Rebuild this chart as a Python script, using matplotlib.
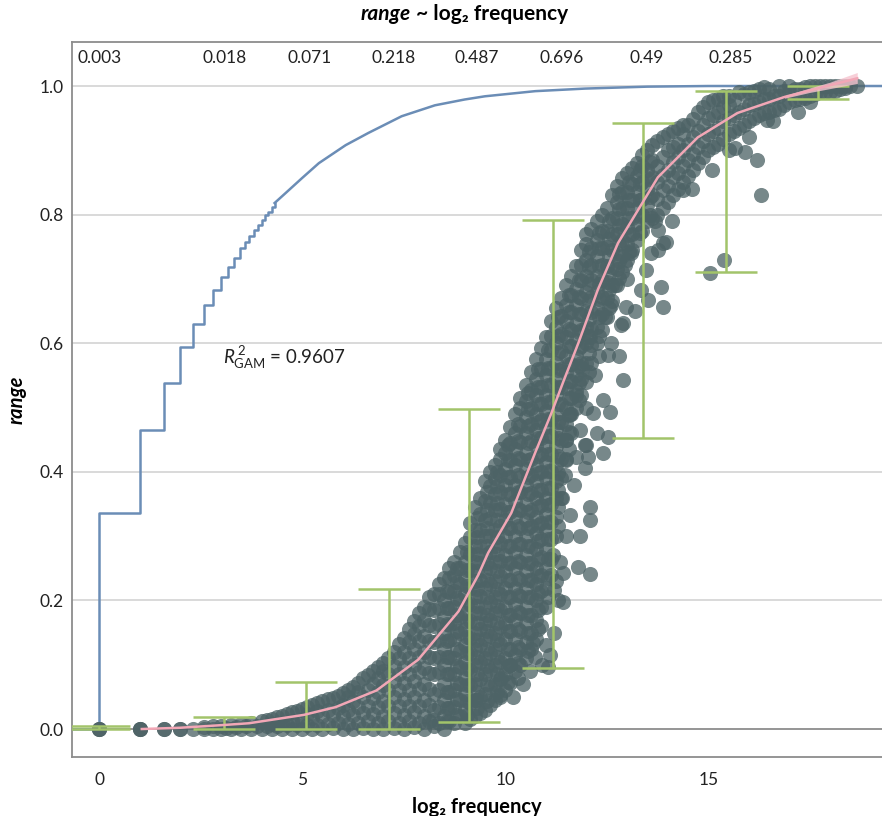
import matplotlib
matplotlib.use('Agg')
import matplotlib.pyplot as plt

plt.rcParams['font.family'] = ['Lato', 'DejaVu Sans']
plt.rcParams['mathtext.fontset'] = 'custom'
plt.rcParams['mathtext.rm'] = 'Lato'
plt.rcParams['mathtext.it'] = 'Lato:italic'
plt.rcParams['mathtext.bf'] = 'Lato:bold'

# ---------------- data ----------------
# words with range 0 at the lowest frequencies (many overlapping)
low_x = [0.0, 0.0, 0.0, 1.0, 1.0, 1.0, 1.585, 1.585, 2.0, 2.0]
low_y = [0.0, 0.0, 0.0, 0.0, 0.0, 0.0, 0.0, 0.0, 0.0, 0.0]

# main cloud, by column of log2 frequency (first set)
cloud_x = [2.32, 2.58, 2.81, 3.0, 3.25, 3.5, 3.75, 4.0, 4.25, 4.5, 4.75, 5.0,
           5.25, 5.5, 5.75, 6.0, 6.25, 6.5, 6.75, 7.0, 7.25, 7.5, 7.75, 8.0,
           8.25, 8.5, 8.75, 9.0, 9.25, 9.5, 9.75, 10.0, 10.25, 10.5, 10.75,
           11.0, 11.25, 11.5, 11.75, 12.0, 12.25, 12.5, 12.75, 13.0, 13.25,
           13.5, 13.75, 14.0, 14.25, 14.5, 14.75, 15.0, 15.25, 15.5, 15.75,
           16.0, 16.25, 16.5, 16.75, 17.0, 17.25, 17.5, 17.75, 18.0, 18.25,
           18.5, 18.67]
cloud_y = [
    [0.0],
    [0.0, 0.003],
    [0.0, 0.004],
    [0.0, 0.005],
    [0.0, 0.006],
    [0.0, 0.008],
    [0.0, 0.01],
    [0.0, 0.012],
    [0.0, 0.008, 0.016],
    [0.0, 0.01, 0.021],
    [0.0, 0.012, 0.026],
    [0.0, 0.014, 0.031],
    [0.0, 0.017, 0.038],
    [0.0, 0.02, 0.043],
    [0.002, 0.022, 0.049],
    [0.0, 0.02, 0.038, 0.056],
    [0.0, 0.022, 0.044, 0.066],
    [0.002, 0.025, 0.05, 0.079],
    [0.0, 0.024, 0.048, 0.07, 0.09],
    [0.0, 0.02, 0.044, 0.068, 0.09, 0.103],
    [0.002, 0.025, 0.05, 0.075, 0.098, 0.12],
    [0.0, 0.022, 0.047, 0.072, 0.097, 0.12, 0.142],
    [0.003, 0.026, 0.05, 0.075, 0.1, 0.125, 0.148, 0.168],
    [0.0, 0.02, 0.045, 0.07, 0.095, 0.12, 0.145, 0.17, 0.19],
    [0.005, 0.03, 0.055, 0.085, 0.11, 0.135, 0.16, 0.185, 0.21],
    [0.0, 0.02, 0.045, 0.07, 0.1, 0.125, 0.15, 0.175, 0.2, 0.235],
    [0.01, 0.035, 0.06, 0.085, 0.11, 0.14, 0.165, 0.19, 0.215, 0.24, 0.26],
    [0.01, 0.03, 0.055, 0.08, 0.105, 0.13, 0.155, 0.18, 0.21, 0.235, 0.26, 0.29],
    [0.02, 0.045, 0.07, 0.1, 0.125, 0.15, 0.18, 0.205, 0.23, 0.26, 0.285, 0.31, 0.345],
    [0.03, 0.055, 0.085, 0.11, 0.14, 0.165, 0.19, 0.22, 0.245, 0.27, 0.3, 0.325, 0.355, 0.385],
    [0.045, 0.07, 0.1, 0.125, 0.15, 0.18, 0.205, 0.23, 0.26, 0.285, 0.31, 0.34, 0.365, 0.39, 0.41],
    [0.06, 0.085, 0.11, 0.14, 0.165, 0.19, 0.22, 0.245, 0.27, 0.3, 0.325, 0.35, 0.38, 0.405, 0.43, 0.45],
    [0.09, 0.115, 0.14, 0.17, 0.195, 0.22, 0.25, 0.275, 0.3, 0.33, 0.355, 0.38, 0.41, 0.435, 0.46, 0.49],
    [0.11, 0.135, 0.165, 0.19, 0.22, 0.245, 0.27, 0.3, 0.325, 0.35, 0.38, 0.405, 0.43, 0.46, 0.485, 0.51, 0.535],
    [0.14, 0.17, 0.2, 0.225, 0.25, 0.28, 0.305, 0.33, 0.36, 0.385, 0.41, 0.44, 0.465, 0.49, 0.52, 0.545, 0.575],
    [0.19, 0.22, 0.25, 0.28, 0.31, 0.335, 0.36, 0.39, 0.415, 0.44, 0.47, 0.495, 0.52, 0.55, 0.575, 0.61],
    [0.3, 0.33, 0.36, 0.385, 0.41, 0.44, 0.465, 0.49, 0.52, 0.545, 0.57, 0.6, 0.625, 0.655],
    [0.42, 0.45, 0.475, 0.5, 0.53, 0.555, 0.58, 0.61, 0.635, 0.66, 0.69],
    [0.5, 0.525, 0.55, 0.58, 0.605, 0.63, 0.66, 0.685, 0.72],
    [0.54, 0.57, 0.6, 0.625, 0.65, 0.68, 0.705, 0.73, 0.755, 0.77],
    [0.6, 0.625, 0.655, 0.68, 0.705, 0.735, 0.76, 0.79],
    [0.64, 0.67, 0.695, 0.72, 0.75, 0.775, 0.81],
    [0.69, 0.715, 0.74, 0.77, 0.795, 0.82, 0.845],
    [0.73, 0.755, 0.78, 0.81, 0.835, 0.865],
    [0.76, 0.785, 0.81, 0.835, 0.86, 0.88],
    [0.79, 0.815, 0.84, 0.87, 0.9],
    [0.8, 0.825, 0.85, 0.875, 0.915],
    [0.82, 0.845, 0.87, 0.9, 0.925],
    [0.84, 0.865, 0.89, 0.91, 0.935],
    [0.86, 0.885, 0.91, 0.94],
    [0.88, 0.905, 0.93, 0.96],
    [0.9, 0.925, 0.95, 0.975],
    [0.91, 0.935, 0.96, 0.98],
    [0.925, 0.95, 0.97, 0.985],
    [0.935, 0.96, 0.99],
    [0.945, 0.97, 0.99],
    [0.955, 0.975, 0.995],
    [0.96, 0.98, 0.995],
    [0.965, 0.985, 1.0],
    [0.975, 0.99, 1.0],
    [0.98, 0.995],
    [0.985, 1.0],
    [0.99, 1.0],
    [0.99, 1.0],
    [0.995, 1.0],
    [1.0],
    [1.0],
]

# main cloud, second set of columns lying between the first ones
cloud2_x = [3.125, 3.375, 3.625, 3.875, 4.125, 4.375, 4.625, 4.875, 5.125, 5.375,
            5.625, 5.875, 6.125, 6.375, 6.625, 6.875, 7.125, 7.375, 7.625, 7.875,
            8.125, 8.375, 8.625, 8.875, 9.125, 9.375, 9.625, 9.875, 10.125, 10.375,
            10.625, 10.875, 11.125, 11.375, 11.625, 11.875, 12.125, 12.375, 12.625,
            12.875, 13.125, 13.375, 13.625, 13.875, 14.125, 14.375, 14.625, 14.875,
            15.125, 15.375, 15.625, 15.875, 16.125, 16.375, 16.625, 16.875, 17.125,
            17.375, 17.625, 17.875, 18.125, 18.375]
cloud2_y = [
    [0.002],
    [0.003],
    [0.004],
    [0.004],
    [0.004, 0.014],
    [0.005, 0.018],
    [0.006, 0.023],
    [0.006, 0.028],
    [0.006, 0.024, 0.035],
    [0.007, 0.028, 0.041],
    [0.008, 0.03, 0.046],
    [0.01, 0.032, 0.052],
    [0.008, 0.03, 0.05, 0.06],
    [0.01, 0.035, 0.058, 0.072],
    [0.012, 0.036, 0.06, 0.084],
    [0.01, 0.034, 0.058, 0.08, 0.097],
    [0.012, 0.036, 0.06, 0.085, 0.11],
    [0.01, 0.036, 0.06, 0.085, 0.11, 0.132],
    [0.012, 0.036, 0.06, 0.086, 0.11, 0.135, 0.155],
    [0.01, 0.036, 0.062, 0.088, 0.112, 0.137, 0.16, 0.18],
    [0.012, 0.037, 0.062, 0.087, 0.112, 0.137, 0.162, 0.187, 0.205],
    [0.01, 0.035, 0.06, 0.088, 0.112, 0.138, 0.163, 0.188, 0.21, 0.225],
    [0.012, 0.033, 0.058, 0.085, 0.112, 0.138, 0.162, 0.188, 0.213, 0.235, 0.25],
    [0.02, 0.045, 0.07, 0.097, 0.122, 0.15, 0.175, 0.2, 0.225, 0.25, 0.275],
    [0.015, 0.04, 0.068, 0.092, 0.118, 0.142, 0.168, 0.195, 0.22, 0.248, 0.272, 0.298, 0.32],
    [0.025, 0.05, 0.078, 0.104, 0.13, 0.155, 0.18, 0.207, 0.232, 0.258, 0.285, 0.31, 0.335, 0.36],
    [0.038, 0.065, 0.092, 0.118, 0.145, 0.17, 0.198, 0.225, 0.25, 0.276, 0.3, 0.328, 0.352, 0.378, 0.4],
    [0.05, 0.078, 0.105, 0.132, 0.158, 0.185, 0.21, 0.238, 0.262, 0.29, 0.315, 0.342, 0.368, 0.395, 0.42, 0.435],
    [0.072, 0.1, 0.125, 0.152, 0.178, 0.205, 0.232, 0.258, 0.285, 0.312, 0.338, 0.365, 0.392, 0.418, 0.445, 0.47],
    [0.1, 0.125, 0.152, 0.18, 0.207, 0.232, 0.26, 0.288, 0.312, 0.34, 0.368, 0.392, 0.42, 0.447, 0.472, 0.5, 0.515],
    [0.125, 0.15, 0.178, 0.205, 0.232, 0.258, 0.285, 0.315, 0.34, 0.367, 0.395, 0.42, 0.448, 0.475, 0.5, 0.528, 0.555],
    [0.16, 0.19, 0.215, 0.24, 0.268, 0.295, 0.32, 0.348, 0.372, 0.4, 0.428, 0.452, 0.48, 0.505, 0.532, 0.56, 0.592],
    [0.24, 0.265, 0.295, 0.322, 0.35, 0.375, 0.402, 0.428, 0.455, 0.482, 0.508, 0.535, 0.562, 0.59, 0.612, 0.635],
    [0.36, 0.39, 0.42, 0.45, 0.478, 0.505, 0.532, 0.56, 0.588, 0.615, 0.642, 0.67],
    [0.46, 0.49, 0.515, 0.542, 0.568, 0.595, 0.62, 0.648, 0.675, 0.705],
    [0.52, 0.545, 0.57, 0.595, 0.62, 0.645, 0.67, 0.698, 0.722, 0.745],
    [0.57, 0.598, 0.622, 0.648, 0.672, 0.698, 0.722, 0.748, 0.778],
    [0.62, 0.645, 0.672, 0.698, 0.722, 0.748, 0.775, 0.8],
    [0.665, 0.69, 0.718, 0.745, 0.77, 0.795, 0.83],
    [0.71, 0.735, 0.76, 0.785, 0.81, 0.835, 0.857],
    [0.745, 0.77, 0.795, 0.822, 0.848, 0.872],
    [0.775, 0.8, 0.825, 0.85, 0.875, 0.892],
    [0.795, 0.83, 0.858, 0.885, 0.908],
    [0.81, 0.838, 0.862, 0.89, 0.92],
    [0.83, 0.858, 0.882, 0.905, 0.93],
    [0.85, 0.875, 0.9, 0.925, 0.94],
    [0.87, 0.895, 0.92, 0.948],
    [0.89, 0.915, 0.94, 0.968],
    [0.905, 0.93, 0.955, 0.978],
    [0.918, 0.945, 0.968, 0.985],
    [0.93, 0.955, 0.978],
    [0.94, 0.965, 0.988],
    [0.95, 0.972, 0.993],
    [0.958, 0.98, 0.998],
    [0.962, 0.985],
    [0.97, 0.992],
    [0.978, 0.995],
    [0.982, 0.998],
    [0.988, 1.0],
    [0.99, 1.0],
    [0.993, 1.0],
    [0.997, 1.0],
]

# main cloud, third set filling the densest part
cloud3_x = [8.56, 8.81, 9.06, 9.31, 9.56, 9.81, 10.06, 10.31, 10.56, 10.81, 11.06,
            11.31, 11.56, 11.81, 12.06, 12.31, 12.56, 12.81, 13.06, 13.31, 13.56]
cloud3_y = [
    [0.012, 0.033, 0.058, 0.085, 0.112, 0.137, 0.163, 0.188, 0.215],
    [0.022, 0.047, 0.072, 0.098, 0.125, 0.152, 0.178, 0.203, 0.228, 0.25],
    [0.022, 0.043, 0.068, 0.093, 0.118, 0.143, 0.168, 0.195, 0.222, 0.248, 0.275],
    [0.033, 0.058, 0.085, 0.112, 0.138, 0.165, 0.192, 0.218, 0.245, 0.272, 0.298, 0.328],
    [0.043, 0.07, 0.098, 0.125, 0.152, 0.178, 0.205, 0.232, 0.258, 0.285, 0.312, 0.34, 0.368],
    [0.058, 0.085, 0.112, 0.138, 0.165, 0.192, 0.218, 0.245, 0.272, 0.298, 0.325, 0.352, 0.378, 0.4],
    [0.073, 0.098, 0.125, 0.152, 0.178, 0.205, 0.232, 0.258, 0.285, 0.312, 0.338, 0.365, 0.392, 0.418, 0.442],
    [0.102, 0.128, 0.155, 0.182, 0.208, 0.235, 0.262, 0.288, 0.315, 0.342, 0.368, 0.395, 0.422, 0.448, 0.475],
    [0.122, 0.15, 0.178, 0.205, 0.232, 0.258, 0.285, 0.312, 0.338, 0.365, 0.392, 0.418, 0.445, 0.472, 0.498, 0.522],
    [0.155, 0.185, 0.212, 0.238, 0.265, 0.292, 0.318, 0.345, 0.372, 0.398, 0.425, 0.452, 0.478, 0.505, 0.532, 0.56],
    [0.205, 0.235, 0.265, 0.295, 0.322, 0.348, 0.375, 0.402, 0.428, 0.455, 0.482, 0.508, 0.535, 0.562, 0.59],
    [0.315, 0.345, 0.372, 0.398, 0.425, 0.452, 0.478, 0.505, 0.532, 0.558, 0.585, 0.612, 0.64],
    [0.435, 0.462, 0.488, 0.515, 0.542, 0.568, 0.595, 0.622, 0.648, 0.675],
    [0.512, 0.538, 0.565, 0.592, 0.618, 0.645, 0.672, 0.698],
    [0.555, 0.585, 0.612, 0.638, 0.665, 0.692, 0.718, 0.742],
    [0.612, 0.64, 0.668, 0.692, 0.72, 0.748, 0.772],
    [0.655, 0.682, 0.708, 0.735, 0.762, 0.79],
    [0.702, 0.728, 0.755, 0.782, 0.808, 0.832],
    [0.742, 0.768, 0.795, 0.822, 0.85],
    [0.772, 0.798, 0.822, 0.848, 0.87],
    [0.8, 0.828, 0.855, 0.882],
]

# looser fringe on the right-hand side of the cloud
fringe_x = [11.6, 11.75, 11.9, 12.0, 12.2, 12.3, 12.1, 12.45, 12.6, 12.7, 13.0, 13.1,
            11.4, 11.5, 11.35, 11.25, 11.5, 11.7, 11.2, 11.0, 10.9, 10.6, 10.45, 10.2,
            11.85, 12.25, 12.4, 12.8, 13.2, 13.6, 14.1, 14.6, 15.1, 15.5, 16.0, 16.6,
            17.2, 17.5]
fringe_y = [0.49, 0.52, 0.56, 0.5, 0.55, 0.58, 0.61, 0.64, 0.66, 0.69, 0.7, 0.74,
            0.36, 0.3, 0.26, 0.23, 0.45, 0.38, 0.15, 0.13, 0.1, 0.09, 0.07, 0.05,
            0.3, 0.46, 0.43, 0.58, 0.65, 0.74, 0.79, 0.84, 0.87, 0.9, 0.92, 0.945,
            0.96, 0.975]

# scattered words away from the main cloud
out_x = [9.29, 9.88, 9.9, 10.12, 10.32, 10.74, 10.69, 11.06, 11.1, 11.2, 11.43,
         11.43, 11.79, 12.1, 11.6, 12.1, 12.1, 11.5, 11.47, 11.75, 11.97, 11.97,
         12.53, 12.16, 12.58, 12.4, 12.9, 12.53, 12.6, 12.9, 12.85, 12.97, 12.95,
         13.34, 13.51, 13.46, 13.88, 13.83, 13.76, 13.88, 13.69, 13.96, 14.37,
         15.04, 15.4, 15.65, 15.9, 16.2, 16.3, 16.45, 11.18, 11.3, 11.84, 12.0,
         12.04, 13.76, 8.23]
out_y = [0.045, 0.053, 0.079, 0.1, 0.079, 0.112, 0.134, 0.096, 0.115, 0.216, 0.198,
         0.243, 0.252, 0.241, 0.333, 0.345, 0.325, 0.418, 0.395, 0.423, 0.406, 0.442,
         0.454, 0.491, 0.493, 0.512, 0.543, 0.582, 0.6, 0.631, 0.628, 0.656, 0.722,
         0.683, 0.667, 0.714, 0.656, 0.687, 0.745, 0.756, 0.79, 0.757, 0.838,
         0.709, 0.729, 0.903, 0.897, 0.885, 0.83, 0.947, 0.27, 0.2, 0.465, 0.442,
         0.423, 0.776, 0.014]

# GAM fit
gam_x = [1.05, 2.0, 3.0, 3.69, 5.04, 5.82, 6.83, 7.86, 8.85, 9.34, 9.58, 10.15,
         10.74, 11.13, 11.43, 11.8, 12.28, 12.78, 13.76, 14.74, 15.72, 16.88, 18.67]
gam_y = [0.0, 0.002, 0.006, 0.009, 0.022, 0.034, 0.06, 0.108, 0.183, 0.24, 0.274, 0.336,
         0.43, 0.49, 0.54, 0.6, 0.683, 0.756, 0.858, 0.92, 0.958, 0.983, 1.012]
band_x = [16.88, 17.5, 18.0, 18.67]
band_lo = [0.981, 0.99, 0.996, 1.004]
band_hi = [0.985, 0.997, 1.006, 1.021]

# binned intervals
bar_x = [0.0, 3.08, 5.09, 7.15, 9.11, 11.17, 13.4, 15.43, 17.71]
bar_lo = [0.0, 0.0, 0.0, 0.0, 0.011, 0.095, 0.453, 0.711, 0.98]
bar_hi = [0.005, 0.019, 0.073, 0.218, 0.498, 0.792, 0.942, 0.992, 1.0]

# proportions shown along the top
top_x = [0.02, 3.1, 5.19, 7.26, 9.3, 11.4, 13.49, 15.56, 17.63]
top_labels = ['0.003', '0.018', '0.071', '0.218', '0.487', '0.696', '0.49', '0.285', '0.022']

# cumulative distribution of log2 frequency
ecdf_step_x = [-0.67, 0.0, 1.0, 1.585, 2.0, 2.322, 2.585, 2.807, 3.0, 3.17, 3.32,
               3.46, 3.585, 3.7, 3.807, 3.907, 4.0, 4.087, 4.17, 4.248, 4.32]
ecdf_step_y = [0.0, 0.336, 0.465, 0.538, 0.594, 0.63, 0.66, 0.683, 0.703, 0.718, 0.732,
               0.748, 0.757, 0.767, 0.776, 0.784, 0.792, 0.8, 0.804, 0.812, 0.818]
ecdf_tail_x = [4.32, 4.6, 5.0, 5.41, 6.07, 6.63, 7.45, 8.27, 9.0, 9.5, 10.74, 11.97,
               13.5, 15.0, 19.3]
ecdf_tail_y = [0.818, 0.834, 0.857, 0.88, 0.908, 0.927, 0.953, 0.97, 0.979, 0.984,
               0.992, 0.996, 0.999, 1.0, 1.0]

r2_text = r'$R^{\,2}_{\mathrm{GAM}}$ = 0.9607'

# ---------------- plot ----------------
fig = plt.figure(figsize=(8.82, 8.16), dpi=100)
ax = fig.add_axes([0.0816, 0.0723, 0.9184, 0.8762])
ax.set_xlim(-0.67, 19.28)
ax.set_ylim(-0.0435, 1.0684)

for yv in [0.2, 0.4, 0.6, 0.8, 1.0]:
    ax.axhline(yv, color='#d3d3d3', lw=1.2, zorder=0)
ax.axhline(0.0, color='#8c8c8c', lw=1.3, zorder=0)

# ECDF
ax.step(ecdf_step_x, ecdf_step_y, where='post', color='#6b8db6', lw=1.8, zorder=1)
ax.plot(ecdf_tail_x, ecdf_tail_y, color='#6b8db6', lw=1.8, zorder=1)

# scatter
px, py = [], []
for cx, cy in [(cloud_x, cloud_y), (cloud2_x, cloud2_y), (cloud3_x, cloud3_y)]:
    for xv, ys in zip(cx, cy):
        for yv in ys:
            px.append(xv)
            py.append(yv)
pt_color = '#4d6366'
msize = 118
palpha = 0.76
ax.scatter(low_x, low_y, s=msize, color=pt_color, alpha=palpha, lw=0, zorder=2)
ax.scatter(px, py, s=msize, color=pt_color, alpha=palpha, lw=0, zorder=2)
ax.scatter(fringe_x, fringe_y, s=msize, color=pt_color, alpha=palpha, lw=0, zorder=2)
ax.scatter(out_x, out_y, s=msize, color=pt_color, alpha=palpha, lw=0, zorder=2)

# interval bars
mid = [(a + b) / 2 for a, b in zip(bar_lo, bar_hi)]
yerr = [[m - a for m, a in zip(mid, bar_lo)], [b - m for m, b in zip(mid, bar_hi)]]
ax.errorbar(bar_x, mid, yerr=yerr, fmt='none', ecolor='#a2c46a', elinewidth=1.8,
            capsize=22, capthick=1.8, zorder=3)

# GAM
ax.fill_between(band_x, band_lo, band_hi, color='#f6c4cf', alpha=0.8, lw=0, zorder=4)
ax.plot(gam_x, gam_y, color='#f2a7b6', lw=1.8, zorder=5)

# top proportions
for xv, lab in zip(top_x, top_labels):
    ax.text(xv, 1.0436, lab, ha='center', va='center', fontsize=12.5, color='#222222')

ax.text(3.05, 0.577, r2_text, ha='left', va='center', fontsize=13.5, color='#222222')

# axes styling
ax.set_xticks([0, 5, 10, 15])
ax.set_xticklabels(['0', '5', '10', '15'])
ax.set_yticks([0.0, 0.2, 0.4, 0.6, 0.8, 1.0])
ax.set_yticklabels(['0.0', '0.2', '0.4', '0.6', '0.8', '1.0'])
ax.tick_params(axis='both', length=0, labelsize=12.5, colors='#222222')
ax.tick_params(axis='x', pad=11)
ax.tick_params(axis='y', pad=6)
for side in ['left', 'top', 'bottom']:
    ax.spines[side].set_color('#8c8c8c')
    ax.spines[side].set_linewidth(1.3)
ax.spines['right'].set_visible(False)

ax.set_xlabel('log\u2082 frequency', fontsize=14.5, fontweight='bold', labelpad=6)
ax.set_ylabel('range', fontsize=14.5, fontweight='bold', style='italic', labelpad=9)

# title: italic "range" followed by the rest
t1 = fig.text(0.466, 0.975, 'range', ha='right', va='baseline', fontsize=15,
              fontweight='bold', style='italic')
ax.annotate(' ~ log\u2082 frequency', xy=(1, 0), xycoords=t1, va='bottom', ha='left',
            fontsize=15, fontweight='bold')

fig.savefig('out.png', dpi=100)
